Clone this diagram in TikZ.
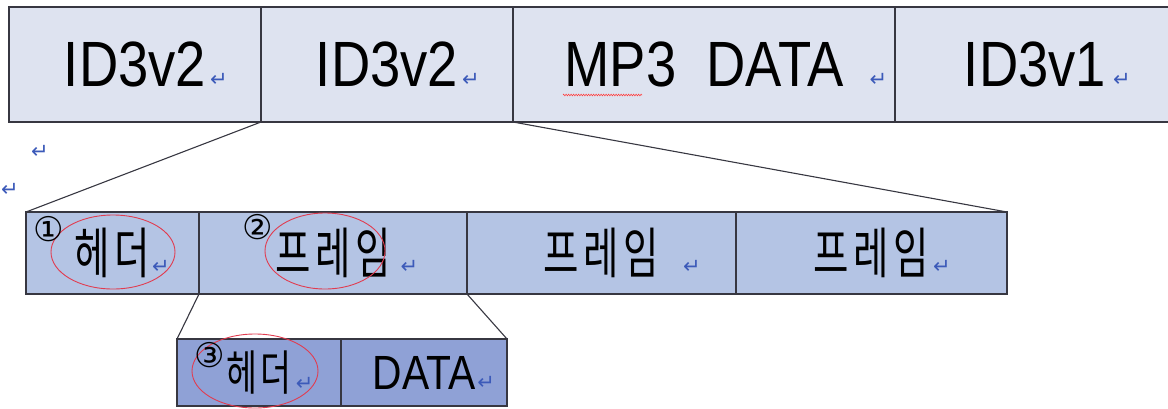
\documentclass[tikz,border=0pt]{standalone}
\usepackage{fontspec}
\setmainfont{Liberation Sans}[FakeStretch=0.85]
\newfontfamily\krfont{Noto Sans CJK KR}[FakeStretch=0.7,LetterSpace=8]
\newfontfamily\symfont{DejaVu Sans}
\usetikzlibrary{positioning,shapes.geometric,decorations.pathmorphing}
\definecolor{tagfill}{RGB}{222,227,240}
\definecolor{framefill}{RGB}{180,196,228}
\definecolor{partfill}{RGB}{143,161,214}
\definecolor{edgegray}{RGB}{55,55,65}
\definecolor{markblue}{RGB}{60,90,185}
\definecolor{ringred}{RGB}{225,60,80}
\newcommand\retmark[1][2pt]{\rlap{\hspace{#1}\textcolor{markblue}{\symfont\fontsize{21}{21}\selectfont ↵}}}
\tikzset{
  tagbox/.style={
      rectangle,
      draw=edgegray,
      line width=1.3pt,
      fill=tagfill,
      outer sep=0pt,
      inner sep=0pt,
      minimum height=115pt,
      font=\fontsize{64}{64}\selectfont
  },
  framebox/.style={tagbox, fill=framefill, minimum height=82pt, font=\fontsize{55}{55}\selectfont},
  partbox/.style={tagbox, fill=partfill, minimum height=67pt, font=\fontsize{48}{48}\selectfont},
  ring/.style={ellipse, draw=ringred, line width=0.9pt, inner sep=0pt},
  num/.style={inner sep=0pt, font=\symfont\fontsize{34}{34}\selectfont},
  zoomline/.style={draw=edgegray, line width=1.1pt}
}
\begin{document}
\begin{tikzpicture}[x=1pt,y=-1pt]
    \useasboundingbox (0,0) rectangle (1168,408);
    \node[tagbox, minimum width=252pt] (v2a) at (135,64.5) {ID3v2\retmark[4pt]};
    \node[tagbox, minimum width=252pt, right=0pt of v2a] (v2b) {ID3v2\retmark[4pt]};
    \node[tagbox, minimum width=382pt, right=0pt of v2b] (mp3) {MP3~~DATA\retmark[26pt]};
    \node[tagbox, minimum width=280pt, right=0pt of mp3] (v1) {ID3v1\retmark[7pt]};
    \draw[red!75, line width=0.6pt, decorate, decoration={zigzag, amplitude=0.8pt, segment length=2.5pt}]
      (563,95) -- (642,95);

    \node[framebox, minimum width=173pt] (hdr) at (112.5,253) {{\krfont 헤더}\retmark[2pt]};
    \node[framebox, minimum width=268pt, right=0pt of hdr] (frm1) {{\krfont 프레임}\retmark[10pt]};
    \node[framebox, minimum width=269pt, right=0pt of frm1] (frm2) {{\krfont 프레임}\retmark[24pt]};
    \node[framebox, minimum width=271pt, right=0pt of frm2] (frm3) {{\krfont 프레임}\retmark[4pt]};

    \node[partbox, minimum width=164pt] (fhdr) at (259,372.5) {{\krfont 헤더}\retmark[4pt]};
    \node[partbox, minimum width=166pt, right=0pt of fhdr] (fdata) {DATA\retmark[2pt]};

    \draw[zoomline] (v2b.south west) -- (hdr.north west);
    \draw[zoomline] (v2b.south east) -- (frm3.north east);
    \draw[zoomline] (frm1.south west) -- (fhdr.north west);
    \draw[zoomline] (frm1.south east) -- (fdata.north east);

    \node[ring, minimum width=124pt, minimum height=74pt] (ring1) at (113,252) {};
    \node[ring, minimum width=120pt, minimum height=76pt] (ring2) at (325,251) {};
    \node[ring, minimum width=126pt, minimum height=74pt] (ring3) at (255,371) {};
    \node[num] (num1) at (49,229) {①};
    \node[num] (num2) at (258,227) {②};
    \node[num] (num3) at (210,355) {③};

    \node[text=markblue, font=\symfont\fontsize{21}{21}\selectfont] (para1) at (40,152) {↵};
    \node[text=markblue, font=\symfont\fontsize{21}{21}\selectfont] (para2) at (10,190) {↵};
\end{tikzpicture}
\end{document}
